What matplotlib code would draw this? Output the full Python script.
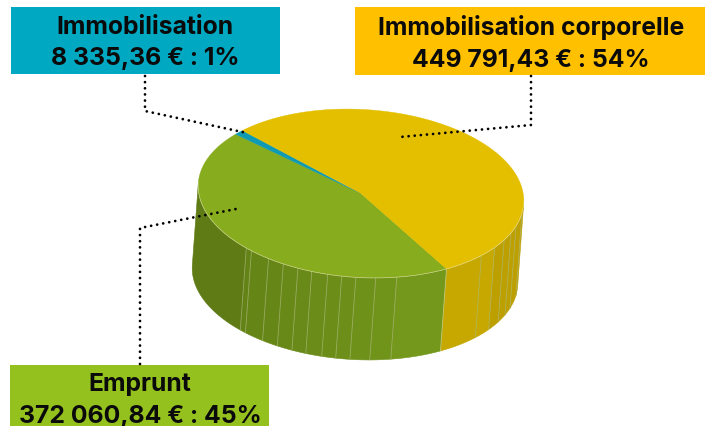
import numpy as np
import matplotlib
matplotlib.use("Agg")
import matplotlib.pyplot as plt
from matplotlib.patches import Rectangle

labels = ["Emprunt", "Immobilisation", "Immobilisation corporelle"]
values = [372060.84, 8335.36, 449791.43]
value_texts = ["372 060,84 € : 45%", "8 335,36 € : 1%", "449 791,43 € : 54%"]

top_colors = ["#87ac1e", "#0f9ab4", "#e3bf00"]
box_colors = ["#95c11f", "#00a8c1", "#ffc000"]

# angles (deg, clockwise from the right) where the 3d export leaves seams on the wall
seams = [7, 16, 21, 26.6, 33, 40.5, 56.5, 75.5, 83, 90, 95, 100, 105.8, 111, 116.7, 122.8, 130.5, 133]

plt.rcParams['font.family'] = ['Inter', 'DejaVu Sans']
plt.rcParams['font.weight'] = 'bold'

fig = plt.figure(figsize=(7.05, 4.26), dpi=100)
ax = fig.add_axes([0, 0, 1, 1])
ax.set_xlim(0, 705)
ax.set_ylim(426, 0)
ax.axis('off')

cx, cy, a, b = 361, 193.5, 163, 84
rot = np.radians(3.5)
dx, dy = -6, 82
start = 56.5

# where the rim tangent runs parallel to the extrusion, i.e. the silhouette
sx = dx * np.cos(rot) + dy * np.sin(rot)
sy = -dx * np.sin(rot) + dy * np.cos(rot)
tangent = np.degrees(np.arctan2(-b * sx, a * sy))


def rim(t):
    t = np.radians(t)
    x = a * np.cos(t)
    y = b * np.sin(t)
    return cx + x * np.cos(rot) - y * np.sin(rot), cy + x * np.sin(rot) + y * np.cos(rot)


def wall(t0, t1, color):
    t = np.linspace(t0, t1, 40)
    x, y = rim(t)
    ax.fill(np.r_[x, x[::-1] + dx], np.r_[y, y[::-1] + dy], color=color, lw=0.4, zorder=2)


def shade(t, dark, light):
    k = np.clip((180 - t) / 125, 0, 1)
    dark, light = np.array(matplotlib.colors.to_rgb(dark)), np.array(matplotlib.colors.to_rgb(light))
    return dark + (light - dark) * k


# walls
edges = [tangent] + seams + [tangent + 180]
for t0, t1 in zip(edges[:-1], edges[1:]):
    if t1 <= start:
        c = "#c6a800" if t1 > 40 else "#bd9f00"
    else:
        c = shade((t0 + t1) / 2, "#587413", "#769b1c")
    wall(t0, t1, c)
for t in seams:
    x, y = rim(np.array([t]))
    pale = "#e6dc9a" if t == start else "#a9b878"
    ax.plot([x[0], x[0] + dx], [y[0], y[0] + dy], color=pale, lw=0.6, alpha=0.7, zorder=3)

# top face, angles come from the values
ang = start
total = sum(values)
for v, c in zip(values, top_colors):
    sweep = v / total * 360
    t = np.linspace(ang, ang + sweep, 200)
    x, y = rim(t)
    ax.fill(np.r_[cx, x], np.r_[cy, y], color=c, lw=0.3, zorder=4)
    ang += sweep
t = np.linspace(tangent, tangent + 180, 300)
x, y = rim(t)
ax.plot(x, y, color="#e8e6b8", lw=0.5, alpha=0.7, zorder=5)

# boxes
boxes = [(10, 365, 259, 70), (11, 7, 269, 67), (355, 7, 350, 68)]
for (bx, by, bw, bh), c in zip(boxes, box_colors):
    ax.add_patch(Rectangle((bx, by), bw, bh, color=c, lw=0, zorder=6))

text_pos = [(140, 384, 416), (145, 27, 59), (531, 28, 60)]
for lab, val, (tx, y1, y2) in zip(labels, value_texts, text_pos):
    ax.text(tx, y1, lab, ha='center', va='center', fontsize=17.8, color='#0a0a0a', zorder=7)
    ax.text(tx, y2, val, ha='center', va='center', fontsize=17.8, color='#0a0a0a', zorder=7)

# leader lines
leaders = [([140, 140, 241], [364, 228, 208]),
           ([145, 145, 247], [76, 111, 133]),
           ([531, 531, 400], [76, 125, 137])]
for lx, ly in leaders:
    ax.plot(lx, ly, color='black', lw=2, ls=(0, (0.01, 2.2)), dash_capstyle='round', zorder=8)

plt.savefig('out.png', dpi=100)
